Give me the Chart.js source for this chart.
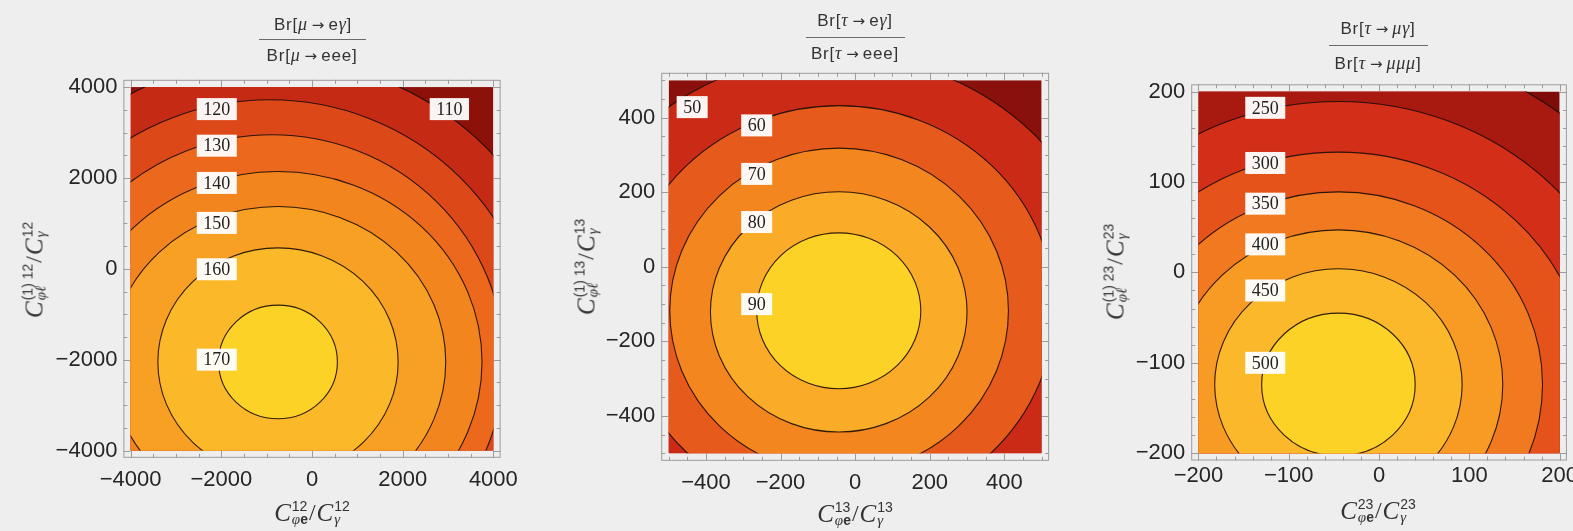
<!DOCTYPE html>
<html>
<head>
<meta charset="utf-8">
<script src="https://cdn.jsdelivr.net/npm/chart.js@4.4.1/dist/chart.umd.min.js"></script>
<style>
  html, body { margin: 0; padding: 0; }
  body { width: 1573px; height: 531px; overflow: hidden; position: relative; background: #eeeeee; color: #333; font-family: 'Liberation Sans', Arial, sans-serif; }
  canvas { position: absolute; top: 0; }
  .frac { position: absolute; transform: translate(-50%, -50%); font-size: 17px; letter-spacing: 0.8px; line-height: 1; white-space: nowrap; color: #333; }
  .g { font-family: 'Liberation Serif', serif; font-style: italic; font-size: 18px; }
  .arr { margin: 0 4px; font-family: 'DejaVu Sans', sans-serif; font-size: 15px; letter-spacing: 0; }
  .bar { position: absolute; height: 1px; background: #6a6a6a; }
  .ax { position: absolute; display: flex; align-items: center; white-space: nowrap; color: #333; transform: translate(-50%, -50%); }
  .ax.rot { transform: translate(-50%, -50%) rotate(-90deg); }
  .C { font-family: 'Liberation Serif', serif; font-style: italic; font-size: 25px; line-height: 1; }
  .ss { display: inline-flex; flex-direction: column; font-size: 14px; line-height: 13px; margin-left: 1px; }
  .ss i { font-family: 'Liberation Serif', serif; font-style: italic; font-size: 15px; }
  .ss b { font-weight: bold; }
  .sl { font-family: 'Liberation Serif', serif; font-size: 24px; margin: 0 1px; }
</style>
</head>
<body>
<canvas id="p1" width="530" height="531" style="left:0px"></canvas>
<canvas id="p2" width="530" height="531" style="left:530px"></canvas>
<canvas id="p3" width="513" height="531" style="left:1060px"></canvas>

<!-- ratio titles -->
<div class="frac" style="left:313px;top:24px">Br[<span class="g">μ</span><span class="arr">→</span>e<span class="g">γ</span>]</div>
<div class="bar" style="left:259px;top:39px;width:107px"></div>
<div class="frac" style="left:312px;top:55px">Br[<span class="g">μ</span><span class="arr">→</span>eee]</div>

<div class="frac" style="left:855px;top:20px">Br[<span class="g">τ</span><span class="arr">→</span>e<span class="g">γ</span>]</div>
<div class="bar" style="left:806px;top:37px;width:99px"></div>
<div class="frac" style="left:855px;top:53px">Br[<span class="g">τ</span><span class="arr">→</span>eee]</div>

<div class="frac" style="left:1378px;top:28px">Br[<span class="g">τ</span><span class="arr">→</span><span class="g">μγ</span>]</div>
<div class="bar" style="left:1329px;top:45px;width:99px"></div>
<div class="frac" style="left:1378px;top:63px">Br[<span class="g">τ</span><span class="arr">→</span><span class="g">μμμ</span>]</div>

<!-- axis titles -->
<div class="ax" style="left:312px;top:512px"><span class="C">C</span><span class="ss"><span>12</span><span><i>φ</i><b>e</b></span></span><span class="sl">/</span><span class="C">C</span><span class="ss"><span>12</span><span><i>γ</i></span></span></div>
<div class="ax rot" style="left:34px;top:270px"><span class="C">C</span><span class="ss"><span>(1) 12</span><span><i>φℓ</i></span></span><span class="sl">/</span><span class="C">C</span><span class="ss"><span>12</span><span><i>γ</i></span></span></div>

<div class="ax" style="left:855px;top:513px"><span class="C">C</span><span class="ss"><span>13</span><span><i>φ</i><b>e</b></span></span><span class="sl">/</span><span class="C">C</span><span class="ss"><span>13</span><span><i>γ</i></span></span></div>
<div class="ax rot" style="left:586px;top:267px"><span class="C">C</span><span class="ss"><span>(1) 13</span><span><i>φℓ</i></span></span><span class="sl">/</span><span class="C">C</span><span class="ss"><span>13</span><span><i>γ</i></span></span></div>

<div class="ax" style="left:1378px;top:510px"><span class="C">C</span><span class="ss"><span>23</span><span><i>φ</i><b>e</b></span></span><span class="sl">/</span><span class="C">C</span><span class="ss"><span>23</span><span><i>γ</i></span></span></div>
<div class="ax rot" style="left:1115px;top:272px"><span class="C">C</span><span class="ss"><span>(1) 23</span><span><i>φℓ</i></span></span><span class="sl">/</span><span class="C">C</span><span class="ss"><span>23</span><span><i>γ</i></span></span></div>

<script>
// ---- mu -> e : Br[mu -> e gamma] / Br[mu -> eee] ----
const p1Levels   = [110, 120, 130, 140, 150, 160, 170];
const p1CenterX  = [-880, -930, -880, -750, -750, -750, -750];
const p1CenterY  = [-2050, -2050, -2050, -2050, -2050, -2050, -2050];
const p1RadiusX  = [6680, 5910, 5120, 4500, 3700, 2650, 1310];
const p1RadiusY  = [6670, 5770, 5000, 4190, 3420, 2510, 1250];
const p1LabelLevels = [110, 120, 130, 140, 150, 160, 170];
const p1LabelX   = [3030, -2100, -2100, -2100, -2100, -2100, -2100];
const p1LabelY   = [3515, 3515, 2710, 1890, 1010, -10, -2000];
const p1Ticks    = [-4000, -2000, 0, 2000, 4000];

// ---- tau -> e : Br[tau -> e gamma] / Br[tau -> eee] ----
const p2Levels   = [50, 60, 70, 80, 90];
const p2CenterX  = [-54, -43, -43, -44, -44];
const p2CenterY  = [-118, -113, -118, -121, -118];
const p2RadiusX  = [737, 577, 454, 344, 220];
const p2RadiusY  = [686, 545, 436, 322, 209];
const p2LabelLevels = [50, 60, 70, 80, 90];
const p2LabelX   = [-437, -264, -264, -264, -264];
const p2LabelY   = [428, 379, 249, 120, -100];
const p2Ticks    = [-400, -200, 0, 200, 400];

// ---- tau -> mu : Br[tau -> mu gamma] / Br[tau -> mu mu mu] ----
const p3Levels   = [200, 250, 300, 350, 400, 450, 500];
const p3CenterX  = [-45, -45, -45, -45, -45, -45, -45];
const p3CenterY  = [-124, -124, -124, -124, -124, -124, -124];
const p3RadiusX  = [403, 333, 277, 226, 182, 137, 85];
const p3RadiusY  = [378, 313, 257, 213, 171, 128, 79];
const p3LabelLevels = [250, 300, 350, 400, 450, 500];
const p3LabelX   = [-126, -126, -126, -126, -126, -126];
const p3LabelY   = [182, 121, 76, 31, -20, -100];
const p3Ticks    = [-200, -100, 0, 100, 200];

// band fills, from outside the lowest contour to inside the highest
const p1Colors = ['#8c1109', '#c52a14', '#dd4818', '#eb681c', '#f3851f', '#f8a024', '#fbb92a', '#fdd227'];
const p2Colors = ['#8a100b', '#cb2b16', '#e65b1b', '#f4861f', '#faab28', '#fdd227'];
const p3Colors = ['#7e0c09', '#a8190f', '#d22e18', '#e5531b', '#f17a20', '#f79b24', '#fbb82a', '#fdd227'];

const minusFmt = v => (v < 0 ? '\u2212' + Math.abs(v) : String(v));

// filled contour bands, contour lines and inline level labels
const contourPlugin = {
  id: 'contours',
  beforeDatasetsDraw(chart, args, opts) {
    const p = opts.panel;
    const xs = chart.scales.x, ys = chart.scales.y, ctx = chart.ctx;
    const L = xs.getPixelForValue(p.lo), R = xs.getPixelForValue(p.hi);
    const T = ys.getPixelForValue(p.hi), B = ys.getPixelForValue(p.lo);
    ctx.save();
    ctx.beginPath();
    ctx.rect(L, T, R - L, B - T);
    ctx.clip();
    ctx.fillStyle = p.colors[0];
    ctx.fillRect(L, T, R - L, B - T);
    const path = i => {
      const cx = xs.getPixelForValue(p.cx[i]), cy = ys.getPixelForValue(p.cy[i]);
      const rx = Math.abs(xs.getPixelForValue(p.cx[i] + p.rx[i]) - cx);
      const ry = Math.abs(ys.getPixelForValue(p.cy[i] + p.ry[i]) - cy);
      ctx.beginPath();
      ctx.ellipse(cx, cy, rx, ry, 0, 0, Math.PI * 2);
    };
    p.levels.forEach((lv, i) => { path(i); ctx.fillStyle = p.colors[i + 1]; ctx.fill(); });
    ctx.lineWidth = 1.1;
    ctx.strokeStyle = 'rgba(25,12,6,0.9)';
    p.levels.forEach((lv, i) => { path(i); ctx.stroke(); });
    ctx.restore();
  },
  afterDatasetsDraw(chart, args, opts) {
    const ctx = chart.ctx;
    const meta = chart.getDatasetMeta(0);
    const pts = chart.data.datasets[0].data;
    ctx.save();
    ctx.font = '18px "Liberation Serif", serif';
    ctx.textAlign = 'center';
    ctx.textBaseline = 'middle';
    meta.data.forEach((el, i) => {
      const txt = String(pts[i].level);
      const w = ctx.measureText(txt).width + 13, h = 22;
      ctx.fillStyle = 'rgba(255,255,255,0.95)';
      ctx.fillRect(el.x - w / 2, el.y - h / 2, w, h);
      ctx.fillStyle = '#222';
      ctx.fillText(txt, el.x, el.y + 1);
    });
    ctx.restore();
  },
  afterDraw(chart, args, opts) {
    const p = opts.panel;
    const ctx = chart.ctx, a = chart.chartArea;
    const xs = chart.scales.x, ys = chart.scales.y;
    ctx.save();
    ctx.strokeStyle = '#9c9c9c';
    ctx.lineWidth = 1;
    ctx.strokeRect(a.left + 0.5, a.top + 0.5, a.right - a.left - 1, a.bottom - a.top - 1);
    ctx.beginPath();
    for (let v = p.lo; v <= p.hi + 1e-9; v += p.minor) {
      const major = p.ticks.includes(v);
      const len = major ? 7 : 4;
      const x = Math.round(xs.getPixelForValue(v)) + 0.5;
      ctx.moveTo(x, a.bottom); ctx.lineTo(x, a.bottom - len);
      ctx.moveTo(x, a.top); ctx.lineTo(x, a.top + len);
      const y = Math.round(ys.getPixelForValue(v)) + 0.5;
      ctx.moveTo(a.left, y); ctx.lineTo(a.left + len, y);
      ctx.moveTo(a.right, y); ctx.lineTo(a.right - len, y);
    }
    ctx.stroke();
    ctx.restore();
  }
};

function axis(ticks, lo, hi, pad, isX, size, padding) {
  return {
    type: 'linear',
    min: lo - pad,
    max: hi + pad,
    grid: { display: false, drawTicks: false },
    border: { display: false },
    ticks: {
      color: '#262626',
      padding: padding,
      autoSkip: false,
      maxRotation: 0,
      minRotation: 0,
      font: { family: "'Liberation Sans', Arial, sans-serif", size: 22 },
      callback: minusFmt
    },
    afterBuildTicks: s => { s.ticks = ticks.map(v => ({ value: v })); },
    afterFit: s => {
      if (isX) { s.height = size; s.paddingLeft = 0; s.paddingRight = 0; }
      else { s.width = size; s.paddingTop = 0; s.paddingBottom = 0; }
    }
  };
}

function makePanel(cfg) {
  const points = cfg.labelLevels.map((lv, i) => ({ x: cfg.labelX[i], y: cfg.labelY[i], level: lv }));
  const pad = (cfg.hi - cfg.lo) * 0.02;
  return new Chart(document.getElementById(cfg.id), {
    type: 'scatter',
    data: { datasets: [{ data: points, pointRadius: 0, pointHoverRadius: 0 }] },
    options: {
      responsive: false,
      animation: false,
      events: [],
      layout: { padding: { left: 0, right: cfg.padRight, top: cfg.padTop, bottom: 0 } },
      plugins: {
        legend: { display: false },
        tooltip: { enabled: false },
        contours: { panel: cfg }
      },
      scales: {
        x: axis(cfg.ticks, cfg.lo, cfg.hi, pad, true, cfg.xAxisH, cfg.xPad),
        y: axis(cfg.ticks, cfg.lo, cfg.hi, pad, false, cfg.yAxisW, 6)
      }
    },
    plugins: [contourPlugin]
  });
}

makePanel({
  id: 'p1', lo: -4000, hi: 4000, minor: 500, ticks: p1Ticks,
  levels: p1Levels, cx: p1CenterX, cy: p1CenterY, rx: p1RadiusX, ry: p1RadiusY, colors: p1Colors,
  labelLevels: p1LabelLevels, labelX: p1LabelX, labelY: p1LabelY,
  yAxisW: 123.4, xAxisH: 73.2, padRight: 29.4, padTop: 79.8, xPad: 9
});
makePanel({
  id: 'p2', lo: -500, hi: 500, minor: 50, ticks: p2Ticks,
  levels: p2Levels, cx: p2CenterX, cy: p2CenterY, rx: p2RadiusX, ry: p2RadiusY, colors: p2Colors,
  labelLevels: p2LabelLevels, labelX: p2LabelX, labelY: p2LabelY,
  yAxisW: 131.2, xAxisH: 70.2, padRight: 10.9, padTop: 72.8, xPad: 9
});
makePanel({
  id: 'p3', lo: -200, hi: 200, minor: 20, ticks: p3Ticks,
  levels: p3Levels, cx: p3CenterX, cy: p3CenterY, rx: p3RadiusX, ry: p3RadiusY, colors: p3Colors,
  labelLevels: p3LabelLevels, labelX: p3LabelX, labelY: p3LabelY,
  yAxisW: 131.2, xAxisH: 70.5, padRight: 6.1, padTop: 84.3, xPad: 2
});
</script>
</body>
</html>
